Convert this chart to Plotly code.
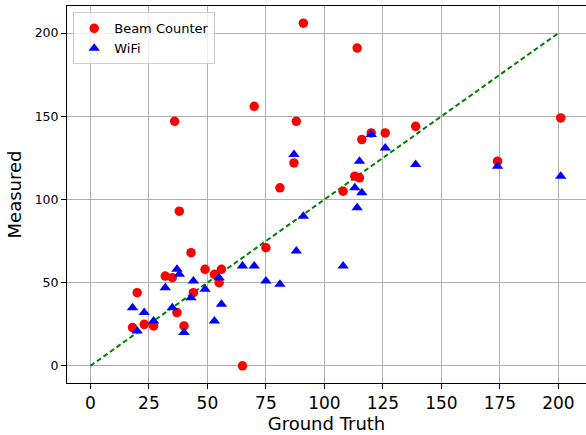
import plotly.graph_objects as go

# Beam Counter (ground truth, measured)
beam_x = [91, 114, 36, 70, 88, 120, 126, 139, 116, 87, 81, 113, 115, 108, 75,
          38, 43, 20, 32, 35, 49, 53, 56, 55, 44, 37, 40, 18, 23, 27, 65, 174, 201]
beam_y = [206, 191, 147, 156, 147, 140, 140, 144, 136, 122, 107, 114, 113, 105, 71,
          93, 68, 44, 54, 53, 58, 55, 58, 50, 44, 32, 24, 23, 25, 24, 0, 123, 149]

# WiFi (ground truth, measured)
wifi_x = [87, 120, 126, 115, 139, 113, 116, 114, 91, 88, 108, 70, 65, 75, 81,
          37, 38, 44, 32, 49, 55, 43, 56, 35, 18, 23, 27, 20, 53, 40, 174, 201]
wifi_y = [127, 139, 131, 123, 121, 107, 104, 95, 90, 69, 60, 60, 60, 51, 49,
          58, 55, 51, 47, 46, 53, 41, 37, 35, 35, 32, 27, 21, 27, 20, 120, 114]

ideal_x = [0, 200]
ideal_y = [0, 200]

x_ticks = [0, 25, 50, 75, 100, 125, 150, 175, 200]
y_ticks = [0, 50, 100, 150, 200]

FONT = "DejaVu Sans"

fig = go.Figure()
fig.add_trace(go.Scatter(
    x=ideal_x, y=ideal_y, mode="lines", showlegend=False,
    line=dict(color="green", width=2, dash="5px,3px"), hoverinfo="skip"))
fig.add_trace(go.Scatter(
    x=beam_x, y=beam_y, mode="markers", name="Beam Counter",
    marker=dict(color="red", size=9.5, symbol="circle", line=dict(width=0))))
fig.add_trace(go.Scatter(
    x=wifi_x, y=wifi_y, mode="markers", name="WiFi",
    marker=dict(color="blue", size=10, symbol="triangle-up", line=dict(width=0))))

axis_common = dict(
    showgrid=True, gridcolor="#b0b0b0", gridwidth=1,
    showline=True, linecolor="black", linewidth=1,
    ticks="outside", ticklen=5, tickcolor="black", tickwidth=1,
    zeroline=False,
)

fig.update_layout(
    width=586, height=435,
    margin=dict(l=67, r=0, t=6, b=52),
    paper_bgcolor="white", plot_bgcolor="white",
    font=dict(family=FONT, color="black"),
    xaxis=dict(range=[-10.0, 211.8], tickvals=x_ticks, mirror=True,
               tickfont=dict(size=17, family=FONT),
               title=dict(text="Ground Truth", font=dict(size=18, family=FONT), standoff=4),
               **axis_common),
    yaxis=dict(range=[-10.3, 216.3], tickvals=y_ticks, mirror=False,
               tickfont=dict(size=12.5, family=FONT),
               title=dict(text="Measured", font=dict(size=18, family=FONT), standoff=8),
               **axis_common),
    legend=dict(x=0.012, y=0.983, xanchor="left", yanchor="top",
                bgcolor="rgba(255,255,255,0.8)", bordercolor="#cccccc", borderwidth=1,
                font=dict(size=13, family=FONT), itemwidth=30,
                tracegroupgap=0),
)

fig.write_html("out.html")
